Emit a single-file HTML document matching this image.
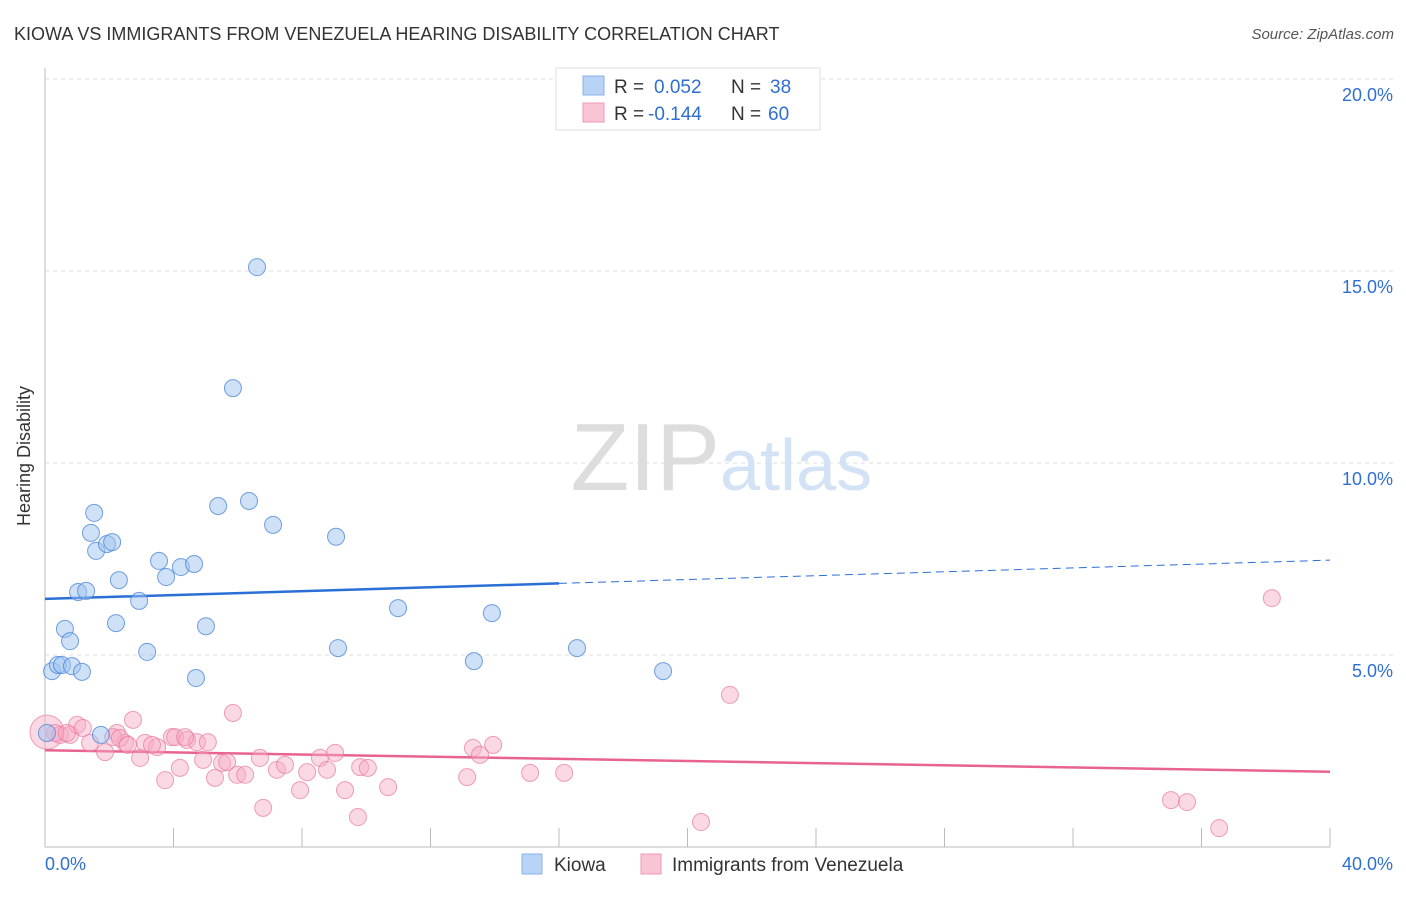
<!DOCTYPE html>
<html><head><meta charset="utf-8"><style>
body{margin:0;background:#fff;font-family:"Liberation Sans",sans-serif;}
svg text{font-family:"Liberation Sans",sans-serif;}
</style></head><body>
<svg width="1406" height="892" xmlns="http://www.w3.org/2000/svg" id="chart">
<text x="14" y="40" font-size="18" fill="#333">KIOWA VS IMMIGRANTS FROM VENEZUELA HEARING DISABILITY CORRELATION CHART</text>
<text x="1394" y="39" font-size="15" fill="#555" font-style="italic" text-anchor="end">Source: ZipAtlas.com</text>
<g id="grid"></g>
<g id="axes"></g>
<text x="30" y="456" font-size="18" fill="#333" text-anchor="middle" transform="rotate(-90 30 456)">Hearing Disability</text>
<text x="720" y="490" font-size="96" fill="#ddd" font-family="Liberation Serif" text-anchor="end">ZIP</text>
<text x="720" y="490" font-size="72" fill="#d3e2f5">atlas</text>
<g id="trends"></g>
<g id="points"></g>
<g>
<rect x="556" y="68" width="264" height="62" fill="#fff" stroke="#ddd"/>
<rect x="583" y="76" width="21" height="19" fill="#b8d3f5" stroke="#8ab2e8"/>
<rect x="583" y="103" width="21" height="19" fill="#f9c4d4" stroke="#ee9ab4"/>
<text x="614" y="93" font-size="19" fill="#333">R = <tspan x="654" fill="#2f6fd1">0.052</tspan><tspan x="731" fill="#333">N = </tspan><tspan x="770" fill="#2f6fd1">38</tspan></text>
<text x="614" y="120" font-size="19" fill="#333">R = <tspan x="648" fill="#2f6fd1">-0.144</tspan><tspan x="731" fill="#333">N = </tspan><tspan x="768" fill="#2f6fd1">60</tspan></text>
</g>
<g>
<rect x="522" y="854" width="20" height="20" fill="#b8d3f5" stroke="#8ab2e8"/>
<text x="554" y="871" font-size="19" fill="#333">Kiowa</text>
<rect x="641" y="854" width="20" height="20" fill="#f9c4d4" stroke="#ee9ab4"/>
<text x="672" y="871" font-size="19" fill="#333">Immigrants from Venezuela</text>
</g>
</svg>
<script>
const xTicks=[0,4,8,12,16,20,24,28,32,36,40];
const yTicks=[5,10,15,20];
const yTickLabels=["5.0%","10.0%","15.0%","20.0%"];
const kiowaX=[0.06,0.22,0.40,0.53,0.84,1.15,0.62,0.78,1.03,1.28,1.43,1.53,1.59,1.93,2.09,2.30,2.21,1.74,2.93,3.18,3.55,3.77,4.23,4.64,4.70,5.01,5.39,5.85,6.35,6.60,7.10,9.06,9.12,10.99,13.35,13.91,16.56,19.24];
const kiowaY=[2.97,4.58,4.74,4.74,4.71,4.56,5.68,5.36,6.64,6.67,8.18,8.70,7.71,7.89,7.94,6.95,5.83,2.92,6.41,5.08,7.45,7.03,7.29,7.37,4.40,5.75,8.88,11.95,9.01,15.10,8.39,8.08,5.18,6.22,4.84,6.09,5.18,4.58];
const venX=[0.06,0.47,0.78,1.00,1.18,1.40,1.87,2.24,2.49,2.74,2.96,3.11,3.49,3.95,4.05,4.42,4.73,3.74,4.20,4.92,5.29,5.51,5.67,5.85,5.98,6.23,6.69,6.79,7.22,7.47,7.94,8.16,8.56,8.78,9.03,9.34,9.74,9.81,10.05,10.68,13.14,13.32,13.54,13.95,15.10,16.16,21.32,20.42,35.05,35.55,36.55,38.19,0.31,0.68,2.12,2.33,2.58,3.33,5.07,4.36];
const venY=[2.99,2.92,2.92,3.18,3.10,2.71,2.47,2.97,2.71,3.31,2.32,2.71,2.60,2.86,2.86,2.79,2.73,1.74,2.06,2.27,1.80,2.19,2.21,3.49,1.88,1.88,2.32,1.02,2.01,2.14,1.48,1.95,2.32,2.01,2.45,1.48,0.78,2.08,2.06,1.56,1.82,2.58,2.40,2.66,1.93,1.93,3.96,0.65,1.22,1.17,0.49,6.48,2.97,2.97,2.86,2.84,2.66,2.66,2.73,2.86];
const kiowaTrend=[6.46,7.47];
const venTrend=[2.52,1.96];
const kiowaSolidEnd=16;

const X=v=>45+v*32.125, Y=v=>847-v*38.4;
const NS="http://www.w3.org/2000/svg";
function mk(tag,attrs,parent){const e=document.createElementNS(NS,tag);for(const k in attrs)e.setAttribute(k,attrs[k]);document.getElementById(parent).appendChild(e);return e;}
yTicks.forEach((t,i)=>{
 const l=mk('line',{x1:45,x2:1394,y1:Y(t),y2:Y(t),stroke:'#ddd','stroke-dasharray':'4 4'},'grid');
 
 
 const tx=mk('text',{x:1393,y:Y(t)+22,'font-size':18,fill:'#2f6fd1','text-anchor':'end'},'grid');tx.textContent=yTickLabels[i];
 
 
});
const a1=mk('line',{x1:45,x2:45,y1:68,y2:847,stroke:'#bbb'},'axes');


const a2=mk('line',{x1:45,x2:1330,y1:847,y2:847,stroke:'#bbb'},'axes');


xTicks.forEach(t=>{const l=mk('line',{x1:X(t),x2:X(t),y1:828,y2:847,stroke:'#bbb'},'axes');
 
 });
const xl0=mk('text',{x:45,y:870,'font-size':18,fill:'#2f6fd1'},'axes');xl0.textContent=xTicks[0].toFixed(1)+'%';


const xl1=mk('text',{x:1393,y:870,'font-size':18,fill:'#2f6fd1','text-anchor':'end'},'axes');xl1.textContent=xTicks[xTicks.length-1].toFixed(1)+'%';


const kAt=x=>kiowaTrend[0]+(kiowaTrend[1]-kiowaTrend[0])*x/40;
const t1=mk('line',{x1:X(0),y1:Y(kiowaTrend[0]),x2:X(kiowaSolidEnd),y2:Y(kAt(kiowaSolidEnd)),stroke:'#2a6fd6','stroke-width':2.5},'trends');


const t2=mk('line',{x1:X(kiowaSolidEnd),y1:Y(kAt(kiowaSolidEnd)),x2:X(40),y2:Y(kiowaTrend[1]),stroke:'#2a6fd6','stroke-width':1,'stroke-dasharray':'8 5'},'trends');


const t3=mk('line',{x1:X(0),y1:Y(venTrend[0]),x2:X(40),y2:Y(venTrend[1]),stroke:'#e8638f','stroke-width':2.5},'trends');


venX.forEach((x,i)=>{const c=mk('circle',{cx:X(x),cy:Y(venY[i]),r:i===0?17:8.5,fill:'rgba(247,170,195,0.45)',stroke:'rgba(232,120,160,0.7)','stroke-width':1},'points');
 
 });
kiowaX.forEach((x,i)=>{const c=mk('circle',{cx:X(x),cy:Y(kiowaY[i]),r:8.5,fill:'rgba(160,195,240,0.5)',stroke:'rgba(70,130,215,0.75)','stroke-width':1},'points');
 
 });
</script>
</body></html>
